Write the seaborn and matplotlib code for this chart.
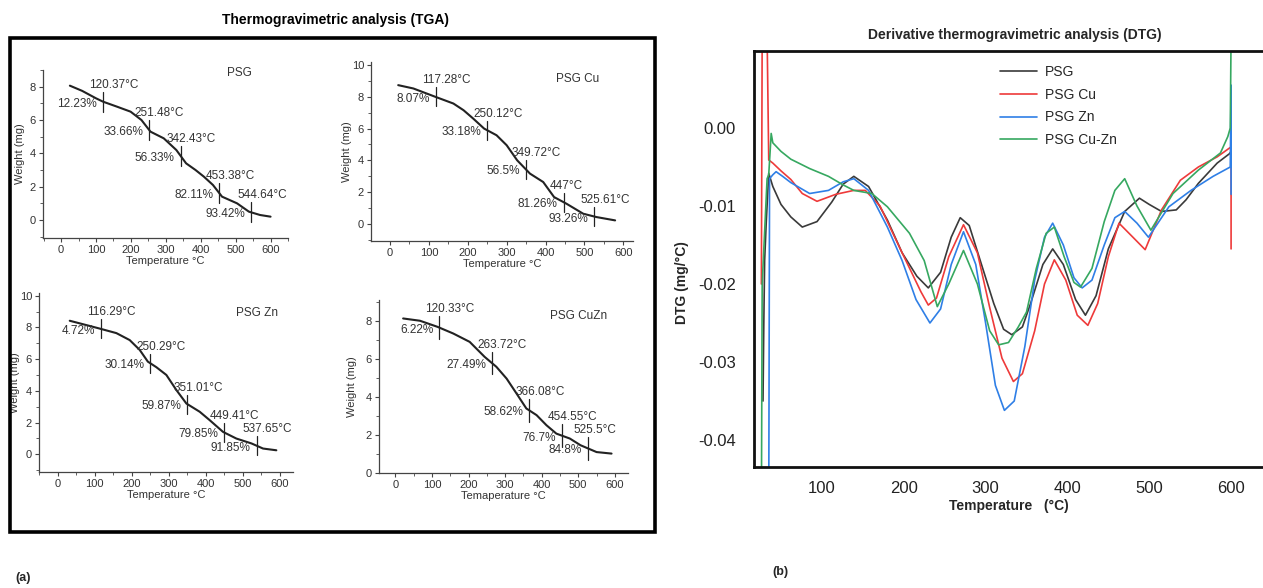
import numpy as np
import matplotlib
matplotlib.use('Agg')
import matplotlib.pyplot as plt
import seaborn as sns
from matplotlib.patches import Rectangle
from matplotlib.ticker import MultipleLocator, FuncFormatter

sns.set_theme(style='white')
plt.rcParams['font.family'] = ['Liberation Sans', 'DejaVu Sans']

# ---------------- TGA data ----------------
psg_T = [25, 60, 100, 120, 160, 199, 230, 256, 294, 330, 358, 385, 409, 435, 461, 504, 538, 570, 600]
psg_W = [8.06, 7.75, 7.3, 7.1, 6.8, 6.5, 6.0, 5.3, 4.9, 4.2, 3.4, 3.0, 2.6, 2.1, 1.4, 1.0, 0.5, 0.3, 0.2]
psg_mark_T = [120.37, 251.48, 342.43, 453.38, 544.64]
psg_mark_pct = [12.23, 33.66, 56.33, 82.11, 93.42]

cu_T = [21, 60, 117, 163, 189, 214, 242, 274, 300, 327, 360, 394, 422, 454, 497, 531, 579]
cu_W = [8.74, 8.53, 8.0, 7.58, 7.16, 6.63, 6.0, 5.58, 4.95, 4.0, 3.16, 2.63, 1.68, 1.26, 0.63, 0.42, 0.21]
cu_mark_T = [117.28, 250.12, 349.72, 447, 525.61]
cu_mark_pct = [8.07, 33.18, 56.5, 81.26, 93.26]

zn_T = [33, 110, 159, 195, 222, 244, 267, 294, 321, 348, 384, 411, 447, 483, 524, 555, 591]
zn_W = [8.42, 7.95, 7.64, 7.2, 6.58, 5.84, 5.49, 5.0, 4.05, 3.2, 2.68, 2.15, 1.41, 0.99, 0.68, 0.36, 0.25]
zn_mark_T = [116.29, 250.29, 351.01, 449.41, 537.65]
zn_mark_pct = [4.72, 30.14, 59.87, 79.85, 91.85]

cuzn_T = [21, 67, 115, 158, 203, 244, 276, 304, 331, 358, 386, 413, 440, 477, 506, 550, 591]
cuzn_W = [8.12, 8.0, 7.68, 7.33, 6.89, 6.1, 5.58, 4.96, 4.18, 3.39, 3.04, 2.51, 2.07, 1.81, 1.46, 1.1, 1.02]
cuzn_mark_T = [120.33, 263.72, 366.08, 454.55, 525.5]
cuzn_mark_pct = [6.22, 27.49, 58.62, 76.7, 84.8]

# ---------------- DTG data ----------------
dtg_names = ['PSG', 'PSG Cu', 'PSG Zn', 'PSG Cu-Zn']
dtg_psg_T = [28, 29, 30, 32, 35, 40, 50, 62, 76, 94, 112, 126, 139, 157, 180, 198, 216, 230, 245, 258, 269, 280,
             295, 310, 322, 332, 345, 355, 370, 382, 395, 410, 422, 435, 450, 470, 488, 500, 515, 533, 545, 560,
             583, 598, 600]
dtg_psg_V = [-0.035, -0.025, -0.017, -0.012, -0.0058, -0.0075, -0.0098, -0.0114, -0.0127, -0.0120, -0.0095,
             -0.0072, -0.0062, -0.0075, -0.0118, -0.0160, -0.0190, -0.0205, -0.0185, -0.0140, -0.0115, -0.0125,
             -0.0175, -0.0225, -0.0258, -0.0265, -0.0255, -0.0225, -0.0175, -0.0155, -0.0175, -0.0220, -0.0240,
             -0.0215, -0.0155, -0.0107, -0.0090, -0.0098, -0.0107, -0.0105, -0.0092, -0.0071, -0.0045, -0.0033,
             -0.0030]
dtg_cu_T = [26, 27, 33, 35, 40, 50, 62, 76, 94, 117, 139, 153, 171, 198, 221, 230, 240, 255, 273, 290, 305, 320,
            334, 345, 360, 372, 384, 398, 412, 425, 437, 450, 463, 480, 495, 515, 538, 560, 583, 599, 600, 600]
dtg_cu_V = [-0.020, 0.012, 0.012, -0.0041, -0.0045, -0.0055, -0.0066, -0.0084, -0.0094, -0.0085, -0.0080,
            -0.0080, -0.0100, -0.0160, -0.0210, -0.0227, -0.0218, -0.0165, -0.0124, -0.0160, -0.0230, -0.0295,
            -0.0325, -0.0315, -0.0260, -0.0200, -0.0169, -0.0195, -0.0240, -0.0253, -0.0225, -0.0165, -0.0122,
            -0.0140, -0.0156, -0.0105, -0.0067, -0.0050, -0.0037, -0.0025, -0.0025, -0.0155]
dtg_zn_T = [35, 36, 40, 44, 52, 62, 85, 108, 126, 139, 157, 180, 198, 215, 232, 245, 258, 273, 288, 300, 312,
            323, 335, 348, 360, 372, 382, 395, 408, 418, 430, 445, 458, 470, 485, 499, 524, 551, 578, 599, 600, 600]
dtg_zn_V = [-0.05, -0.0065, -0.006, -0.0056, -0.0062, -0.0070, -0.0084, -0.0080, -0.0069, -0.0065, -0.0080,
            -0.0127, -0.0170, -0.0220, -0.0250, -0.0232, -0.0175, -0.0133, -0.0175, -0.0250, -0.0330, -0.0362,
            -0.0350, -0.0280, -0.0195, -0.0140, -0.0122, -0.0150, -0.0192, -0.0205, -0.0195, -0.0150, -0.0115,
            -0.0107, -0.0122, -0.0140, -0.0101, -0.0080, -0.0062, -0.0050, 0.0055, -0.0085]
dtg_cuzn_T = [26, 27, 33, 35, 38, 40, 50, 62, 85, 108, 126, 139, 161, 180, 207, 225, 241, 255, 273, 290, 305,
              316, 328, 340, 350, 362, 374, 384, 396, 408, 416, 430, 445, 458, 470, 485, 502, 529, 560, 587, 596,
              599, 600]
dtg_cuzn_V = [-0.05, -0.020, -0.0065, -0.0060, -0.0007, -0.0019, -0.0030, -0.0040, -0.0052, -0.0062, -0.0073,
              -0.0080, -0.0084, -0.0101, -0.0135, -0.0170, -0.0229, -0.0200, -0.0157, -0.0200, -0.0260, -0.0278,
              -0.0275, -0.0255, -0.0236, -0.0180, -0.0135, -0.0127, -0.0165, -0.0198, -0.0204, -0.0180, -0.0120,
              -0.0080, -0.0065, -0.0100, -0.0131, -0.0084, -0.0054, -0.0032, -0.0011, 0.0, 0.012]
dtg_colors = ['#3a3a3a', '#ee3a3a', '#2f7fe6', '#36a860']

# ---------------- figure ----------------
FW, FH = 1263, 588
fig = plt.figure(figsize=(FW / 100, FH / 100), dpi=100)


def box(l, t, r, b):
    return [l / FW, 1 - b / FH, (r - l) / FW, (b - t) / FH]


TXT = '#333333'


def tga_panel(rect, T, Wt, mT, mP, name, xlab, xlim, ylim, ymax_tick, name_pos, ylab_x):
    ax = fig.add_axes(box(*rect))
    ax.patch.set_alpha(0)
    sns.lineplot(x=T, y=Wt, ax=ax, color='#222222', lw=1.5, sort=False, estimator=None)
    for t, p in zip(mT, mP):
        c = float(np.interp(t, T, Wt))
        ax.plot([t, t], [c - 0.6, c + 0.6], color='#222222', lw=0.9)
        ax.annotate(f'{t:g}\u00b0C', xy=(t, c + 0.6), xytext=(-14, 1), textcoords='offset pixels',
                    ha='left', va='bottom', fontsize=8.5, color=TXT)
        ax.annotate(f'{p:g}%', xy=(t, c), xytext=(-6, -2), textcoords='offset pixels',
                    ha='right', va='center', fontsize=8.5, color=TXT)
    ax.set_xlim(*xlim)
    ax.set_ylim(*ylim)
    ax.set_xticks(range(0, 601, 100))
    ax.set_yticks(range(0, ymax_tick + 1, 2))
    ax.xaxis.set_minor_locator(MultipleLocator(50))
    ax.yaxis.set_minor_locator(MultipleLocator(1))
    for s in ['top', 'right']:
        ax.spines[s].set_visible(False)
    for s in ['left', 'bottom']:
        ax.spines[s].set_color('#444444')
        ax.spines[s].set_linewidth(0.9)
    ax.tick_params(which='both', bottom=True, left=True, direction='out', color='#444444',
                   labelsize=8, labelcolor=TXT, pad=2)
    ax.tick_params(which='major', length=3, width=0.8)
    ax.tick_params(which='minor', length=2, width=0.6)
    ax.set_xlabel(xlab, fontsize=8, color=TXT, labelpad=1)
    ax.set_ylabel('Weight (mg)', fontsize=8, color=TXT)
    ax.yaxis.set_label_coords(ylab_x, 0.5)
    ax.text(name_pos[0], name_pos[1], name, transform=ax.transAxes, ha='center', va='center',
            fontsize=8.5, color=TXT)
    return ax


tga_panel((43, 70, 288, 238), psg_T, psg_W, psg_mark_T, psg_mark_pct, 'PSG', 'Temperature \u00b0C',
          (-52, 650), (-1.08, 9.0), 8, (0.80, 0.98), -0.073)
tga_panel((371, 62, 633, 241), cu_T, cu_W, cu_mark_T, cu_mark_pct, 'PSG Cu', 'Temperature \u00b0C',
          (-49, 625), (-1.09, 10.2), 10, (0.79, 0.905), -0.073)
tga_panel((39, 293, 293, 472), zn_T, zn_W, zn_mark_T, zn_mark_pct, 'PSG Zn', 'Temperature \u00b0C',
          (-50, 636), (-1.12, 10.17), 10, (0.86, 0.89), -0.075)
tga_panel((379, 300, 628, 473), cuzn_T, cuzn_W, cuzn_mark_T, cuzn_mark_pct, 'PSG CuZn', 'Temaperature \u00b0C',
          (-45, 636), (0, 9.09), 8, (0.80, 0.91), -0.088)

fig.add_artist(Rectangle((10 / FW, 1 - 532 / FH), 645 / FW, 494 / FH, transform=fig.transFigure,
                         fill=False, lw=2.6, ec='black'))
fig.text(335 / FW, 1 - 20 / FH, 'Thermogravimetric analysis (TGA)', ha='center', va='center',
         fontsize=10, weight='bold', color='black')
fig.text(15 / FW, 1 - 578 / FH, '(a)', ha='left', va='center', fontsize=9, weight='bold')
fig.text(780 / FW, 1 - 572 / FH, '(b)', ha='center', va='center', fontsize=9, weight='bold')

# ---------------- DTG panel ----------------
ax = fig.add_axes(box(754, 51, 1263, 467))
ax.patch.set_alpha(0)
series = [(dtg_psg_T, dtg_psg_V), (dtg_cu_T, dtg_cu_V), (dtg_zn_T, dtg_zn_V), (dtg_cuzn_T, dtg_cuzn_V)]
for (T, V), nm, col in zip(series, dtg_names, dtg_colors):
    sns.lineplot(x=T, y=V, ax=ax, color=col, lw=1.2, sort=False, estimator=None, label=nm)
ax.set_xlim(17, 639)
ax.set_ylim(-0.04346, 0.00987)
ax.set_xticks(range(100, 601, 100))
ax.set_yticks([0.0, -0.01, -0.02, -0.03, -0.04])
ax.yaxis.set_major_formatter(FuncFormatter(lambda v, p: '0.00' if abs(v) < 1e-9 else f'{v:.2f}'))
ax.spines['right'].set_visible(False)
for s in ['top', 'left', 'bottom']:
    ax.spines[s].set_color('#111111')
    ax.spines[s].set_linewidth(2.0)
ax.tick_params(axis='both', length=0, labelsize=12, labelcolor='#222222')
ax.tick_params(axis='x', pad=10)
ax.tick_params(axis='y', pad=13)
ax.set_xlabel('Temperature   (\u00b0C)', fontsize=10, weight='bold', labelpad=2)
ax.set_ylabel('')
fig.text(682 / FW, 1 - 283 / FH, 'DTG (mg/\u00b0C)', rotation=90, ha='center', va='center',
         fontsize=10, weight='bold')
fig.text(1015 / FW, 1 - 35 / FH, 'Derivative thermogravimetric analysis (DTG)', ha='center', va='center',
         fontsize=10, weight='bold')
ax.legend(loc='upper left', bbox_to_anchor=(0.483, 0.966), frameon=False, fontsize=10,
          handlelength=2.7, handletextpad=0.55, labelspacing=0.62, borderaxespad=0, borderpad=0)

fig.savefig('out.png', dpi=100)
